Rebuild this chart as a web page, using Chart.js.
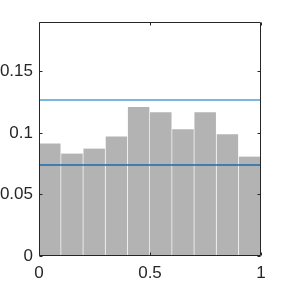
<!DOCTYPE html>
<html><head><meta charset="utf-8">
<script src="https://cdn.jsdelivr.net/npm/chart.js@4"></script>
<style>html,body{margin:0;padding:0;background:#fff}</style>
</head><body>
<canvas id="c" width="288" height="288"></canvas>
<script>
const binCenters = [0.05, 0.15, 0.25, 0.35, 0.45, 0.55, 0.65, 0.75, 0.85, 0.95];
const binValues = [0.0914, 0.0832, 0.0873, 0.0971, 0.1209, 0.1168, 0.1029, 0.1168, 0.0988, 0.0807];
const upperLevel = 0.1266;
const lowerLevel = 0.0739;
const xRange = [0, 1];
const yRange = [0, 0.19];
const xTicks = [0, 0.5, 1];
const xTickLabels = ['0', '0.5', '1'];
const yTicks = [0, 0.05, 0.1, 0.15];
const yTickLabels = ['0', '0.05', '0.1', '0.15'];

const AX = '#262626';
const FONT = {family: '"Liberation Sans", Arial, sans-serif', size: 17};

const boxPlugin = {
  id: 'box',
  afterDatasetsDraw(chart) {
    const ctx = chart.ctx, a = chart.chartArea;
    const xs = chart.scales.x, ys = chart.scales.y;
    const L = Math.round(a.left) + 0.5, R = Math.round(a.right) - 0.5;
    const T = Math.round(a.top) + 0.5, B = Math.round(a.bottom) - 0.5;
    ctx.save();
    ctx.strokeStyle = AX; ctx.lineWidth = 1;
    ctx.beginPath();
    ctx.rect(L, T, R - L, B - T);
    const tl = 3;
    yTicks.forEach(v => {
      const p = Math.round(ys.getPixelForValue(v)) + 0.5;
      ctx.moveTo(L, p); ctx.lineTo(L + tl, p);
      ctx.moveTo(R, p); ctx.lineTo(R - tl, p);
    });
    xTicks.forEach(v => {
      const p = Math.round(xs.getPixelForValue(v)) + 0.5;
      ctx.moveTo(p, B); ctx.lineTo(p, B - tl);
      ctx.moveTo(p, T); ctx.lineTo(p, T + tl);
    });
    ctx.stroke();
    ctx.restore();
  }
};

new Chart(document.getElementById('c'), {
  type: 'bar',
  data: {
    datasets: [
      {
        type: 'line', order: 1,
        data: xRange.map(x => ({x, y: upperLevel})),
        borderColor: '#4d9ed6', borderWidth: 1.5, pointRadius: 0, fill: false
      },
      {
        type: 'line', order: 1,
        data: xRange.map(x => ({x, y: lowerLevel})),
        borderColor: '#1a6aab', borderWidth: 1.5, pointRadius: 0, fill: false
      },
      {
        type: 'bar', order: 2,
        data: binCenters.map((x, i) => ({x, y: binValues[i]})),
        backgroundColor: '#b3b3b3',
        borderColor: '#ffffff',
        borderWidth: {left: 0, right: 1, top: 0, bottom: 0},
        borderSkipped: false,
        barPercentage: 1, categoryPercentage: 1
      }
    ]
  },
  options: {
    responsive: false,
    animation: false,
    events: [],
    layout: {padding: {top: 22, right: 27, left: 0, bottom: 0}},
    plugins: {legend: {display: false}, tooltip: {enabled: false}},
    scales: {
      x: {
        type: 'linear', min: xRange[0], max: xRange[1], offset: false,
        grid: {display: false, drawTicks: false},
        border: {display: false},
        afterBuildTicks: s => { s.ticks = xTicks.map(v => ({value: v})); },
        afterFit: s => { s.height = 32; },
        ticks: {
          color: AX, font: FONT, padding: 7, maxRotation: 0, autoSkip: false,
          callback: v => xTickLabels[xTicks.indexOf(v)]
        }
      },
      y: {
        min: yRange[0], max: yRange[1],
        grid: {display: false, drawTicks: false},
        border: {display: false},
        afterBuildTicks: s => { s.ticks = yTicks.map(v => ({value: v})); },
        afterFit: s => { s.width = 39; },
        ticks: {
          color: AX, font: FONT, padding: 6, autoSkip: false,
          callback: v => yTickLabels[yTicks.indexOf(v)]
        }
      }
    }
  },
  plugins: [boxPlugin]
});
</script>
</body></html>
